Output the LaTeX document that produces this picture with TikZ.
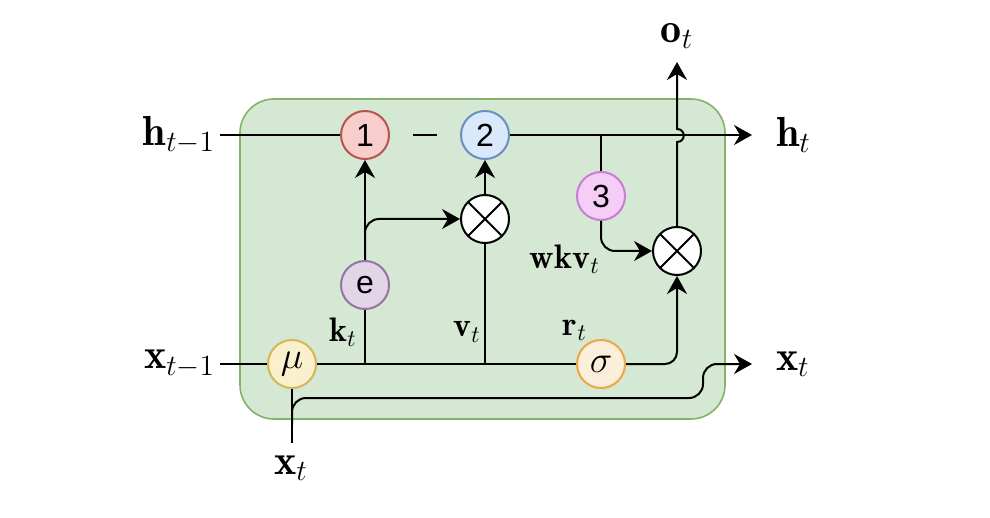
\RequirePackage{fix-cm}
\documentclass[tikz,border=0pt]{standalone}
\usepackage{fontspec}
\setsansfont{Liberation Sans}
\usetikzlibrary{arrows.meta}

\definecolor{cellfill}{HTML}{D5E8D4}
\definecolor{celldraw}{HTML}{82B366}
\definecolor{redfill}{HTML}{F8CECC}
\definecolor{reddraw}{HTML}{B85450}
\definecolor{bluefill}{HTML}{DAE8FC}
\definecolor{bluedraw}{HTML}{6C8EBF}
\definecolor{pinkfill}{HTML}{F5CDF7}
\definecolor{pinkdraw}{HTML}{C97DD2}
\definecolor{purpfill}{HTML}{E1D5E7}
\definecolor{purpdraw}{HTML}{9673A6}
\definecolor{yelfill}{HTML}{FBF0CD}
\definecolor{yeldraw}{HTML}{D6B656}
\definecolor{orfill}{HTML}{FBEEDB}
\definecolor{ordraw}{HTML}{EBA646}

\begin{document}
\begin{tikzpicture}[x=0.5pt,y=-0.5pt,line width=1pt,
    >={Stealth[length=9pt,width=10pt,inset=3pt]},
    gate/.style={circle,draw,minimum size=24pt,inner sep=0pt,
      font=\sffamily\fontsize{16}{18}\selectfont},
    mult/.style={gate,fill=white,
      path picture={\draw (path picture bounding box.center) ++(45:12pt) -- ++(225:24pt)
                          (path picture bounding box.center) ++(135:12pt) -- ++(-45:24pt);}},
    lbl/.style={inner sep=2pt,font=\fontsize{21}{25}\selectfont},
    sublbl/.style={inner sep=0pt,font=\fontsize{17}{20}\selectfont}]

  \useasboundingbox (0,0) rectangle (990,518);

  % cell
  \draw[celldraw,fill=cellfill,line width=0.8pt,rounded corners=17pt] (240,99) rectangle (725,419);

  \begin{scope}[every node/.style={gate}]
    \node[fill=redfill,draw=reddraw]   (1)   at (365,135) {1};
    \node[fill=bluefill,draw=bluedraw] (2)   at (485,135) {2};
    \node[fill=pinkfill,draw=pinkdraw] (3)   at (601,196) {3};
    \node[fill=purpfill,draw=purpdraw] (e)   at (365,285) {e};
    \node[fill=yelfill,draw=yeldraw]   (mu)  at (292,364) {\fontsize{19}{22}\selectfont$\mu$};
    \node[fill=orfill,draw=ordraw]     (sig) at (601,364) {\fontsize{19}{22}\selectfont$\sigma$};
    \node[mult] (mA) at (485,219) {};
    \node[mult] (mB) at (677,251) {};
  \end{scope}

  % inputs and outputs
  \node[lbl,anchor=east] (hprev) at (220,135) {$\mathbf{h}_{t-1}$};
  \node[lbl,anchor=east] (xprev) at (220,364) {$\mathbf{x}_{t-1}$};
  \node[lbl,anchor=west,inner xsep=11.5pt] (hnext) at (752,135) {$\mathbf{h}_t$};
  \node[lbl,anchor=west,inner xsep=11.5pt] (xnext) at (752,364) {$\mathbf{x}_t$};
  \node[lbl,anchor=south,inner ysep=6pt] (ot) at (677,62) {$\mathbf{o}_t$};
  \node[lbl] (xin) at (291,468) {$\mathbf{x}_t$};

  \node[sublbl] (kt)  at (343,332) {$\mathbf{k}_t$};
  \node[sublbl] (vt)  at (467,332) {$\mathbf{v}_t$};
  \node[sublbl] (rt)  at (575,330) {$\mathbf{r}_t$};
  \node[sublbl] (wkv) at (565,259) {$\mathbf{wkv}_t$};

  \coordinate (kj)   at (365,364);
  \coordinate (vj)   at (485,364);
  \coordinate (rj)   at (601,135);
  \coordinate (d1)   at (413,135);
  \coordinate (d2)   at (437,135);
  \coordinate (hop1) at (677,142);
  \coordinate (hop2) at (677,129);
  \coordinate (xbot) at (292,443);
  \coordinate (xspl) at (292,425);
  \coordinate (xtrn) at (703,398);

  % state line
  \draw (hprev.east) -- (1.west);
  \draw (d1) -- (d2);
  \draw[->] (2.east) -- (hnext.west);
  \draw (rj) -- (3.north);

  % token line
  \draw (xprev.east) -- (mu.west);
  \draw (mu.east) -- (sig.west);
  \draw (kj) -- (e.south);
  \draw (vj) -- (mA.south);
  \draw[->] (e.north) -- (1.south);
  \draw[->,rounded corners=7pt] (e.north) |- (mA.west);
  \draw[->] (mA.north) -- (2.south);
  \draw[->,rounded corners=7pt] (3.south) |- (mB.west);
  \draw[->,rounded corners=6pt] (sig.east) -| (mB.south);
  \draw[->] (mB.north) -- (hop1) .. controls (686,142) and (686,129) .. (hop2) -- (ot.south);

  % shifted input
  \draw (xbot) -- (mu.south);
  \draw[->,rounded corners=7pt] (xspl) |- (xtrn) |- (xnext.west);

\end{tikzpicture}
\end{document}
